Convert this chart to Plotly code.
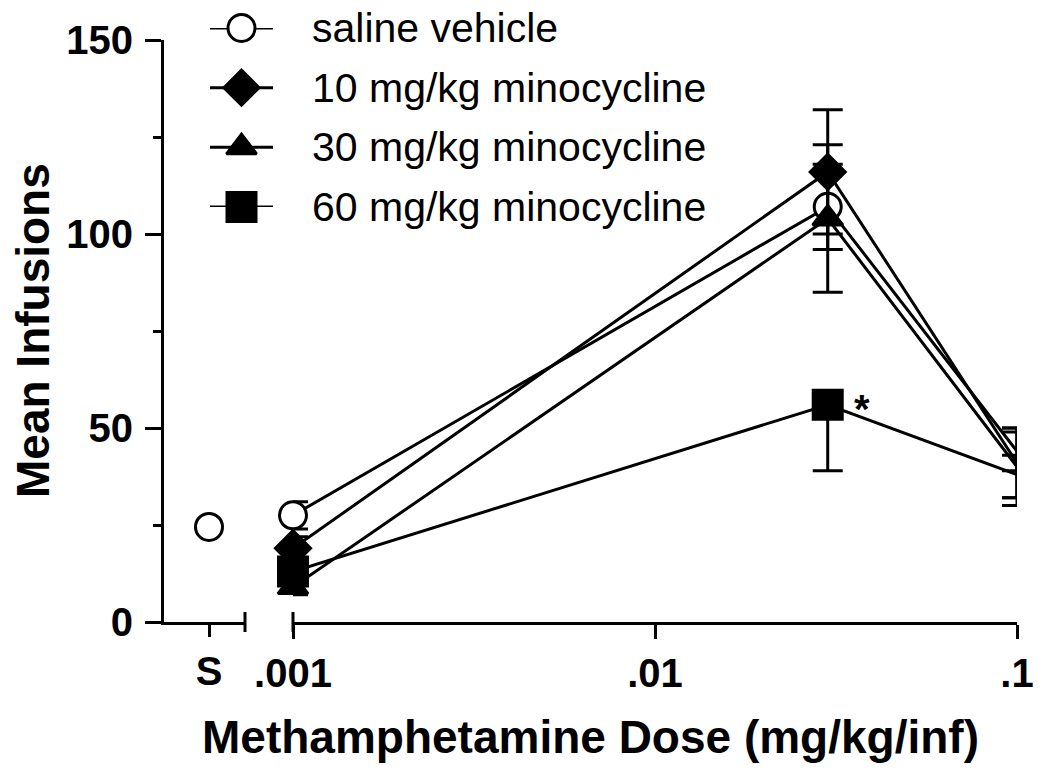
import numpy as np
import plotly.graph_objects as go

# data
doses = [0.001, 0.03, 0.1]
tick_vals = [0.001, 0.01, 0.1]
tick_text = [".001", ".01", ".1"]

saline_s = 24.5

names = ["saline vehicle", "10 mg/kg minocycline", "30 mg/kg minocycline", "60 mg/kg minocycline"]
saline = [27.5, 107, 44]
saline_err = [3.5, 11, 5]
mino10 = [19, 116, 41]
mino10_err = [3, 16, 9]
mino30 = [9, 104, 40]
mino30_err = [2, 19, 10]
mino60 = [13, 56, 38]
mino60_err_up = [2, 0, 5]
mino60_err_down = [2, 17, 6]

symbols = ["circle", "diamond", "triangle-up", "square"]
sizes = [27, 27, 26, 29]
fills = ["white", "black", "black", "black"]

FONT = "Liberation Sans, Arial, sans-serif"
OFF = 8  # page body margin
W, H = 1050 - OFF, 775 - OFF
ML, MR, MT, MB = 156, 33, 2, 153
PW = W - ML - MR
PH = H - MT - MB


# screen pixel -> paper coords
def px_x(p):
    return (p - OFF - ML) / PW


def px_y(p):
    return (H - MB - (p - OFF)) / PH


fig = go.Figure()

series = [
    (saline, saline_err, saline_err),
    (mino10, mino10_err, mino10_err),
    (mino30, mino30_err, mino30_err),
    (mino60, mino60_err_up, mino60_err_down),
]

for i, (vals, up, down) in enumerate(series):
    fig.add_trace(go.Scatter(
        x=doses, y=vals, mode="lines+markers", name=names[i],
        xaxis="x", yaxis="y", cliponaxis=False, showlegend=False,
        line=dict(color="black", width=3),
        marker=dict(symbol=symbols[i], size=sizes[i], color=fills[i], opacity=1,
                    line=dict(color="black", width=3)),
        error_y=dict(type="data", symmetric=False, array=up, arrayminus=down,
                     color="black", thickness=3, width=15),
    ))

# saline-only point on the separate "S" segment
fig.add_trace(go.Scatter(
    x=["S"], y=[saline_s], mode="markers", xaxis="x2", yaxis="y",
    cliponaxis=False, showlegend=False,
    marker=dict(symbol="circle", size=27, color="white", opacity=1,
                line=dict(color="black", width=3)),
))

# hand-made legend (plotly caps legend marker size)
for i, name in enumerate(names):
    fig.add_trace(go.Scatter(
        x=[0, 1], y=[i, i], mode="lines", xaxis="x3", yaxis="y3",
        cliponaxis=False, showlegend=False, hoverinfo="skip",
        line=dict(color="black", width=3),
    ))
    fig.add_trace(go.Scatter(
        x=[0.5], y=[i], mode="markers", xaxis="x3", yaxis="y3",
        cliponaxis=False, showlegend=False, hoverinfo="skip",
        marker=dict(symbol=symbols[i], size=sizes[i], color=fills[i], opacity=1,
                    line=dict(color="black", width=3)),
    ))
    fig.add_annotation(x=px_x(310), y=i, xref="paper", yref="y3", text=name,
                       showarrow=False, xanchor="left", yanchor="middle",
                       font=dict(family=FONT, size=41, color="black"))

fig.add_annotation(x=np.log10(doses[1]), y=mino60[1], xref="x", yref="y", text="*",
                   showarrow=False, xshift=34, yshift=-4,
                   font=dict(family=FONT, size=40, color="black", weight="bold"))

fig.add_annotation(x=px_x(590), y=px_y(737), xref="paper", yref="paper",
                   text="Methamphetamine Dose (mg/kg/inf)", showarrow=False,
                   xanchor="center", yanchor="middle",
                   font=dict(family=FONT, size=46, color="black", weight="bold"))
fig.add_annotation(x=px_x(33), y=px_y(331), xref="paper", yref="paper",
                   text="Mean Infusions", textangle=-90, showarrow=False,
                   xanchor="center", yanchor="middle",
                   font=dict(family=FONT, size=46, color="black", weight="bold"))

# axis break caps
for ref, xv in [("x2 domain", 1), ("x domain", 0)]:
    fig.add_shape(type="line", xref=ref, yref="paper", x0=xv, x1=xv,
                  y0=-10 / PH, y1=10 / PH, line=dict(color="black", width=3))

tickfont = dict(family=FONT, size=40, color="black", weight="bold")

fig.update_layout(
    width=W, height=H,
    margin=dict(l=ML, r=MR, t=MT, b=MB),
    paper_bgcolor="white", plot_bgcolor="white",
    xaxis=dict(type="log", domain=[px_x(293), 1], range=[-3, -1], anchor="y",
               tickvals=tick_vals, ticktext=tick_text, ticks="outside", ticklen=14,
               tickwidth=3, tickcolor="black", showline=True, linecolor="black",
               linewidth=3, showgrid=False, zeroline=False, tickfont=tickfont,
               automargin=False),
    xaxis2=dict(type="category", domain=[0, px_x(245)], range=[-1.25, 1.0], anchor="y",
                ticks="outside", ticklen=12, tickwidth=3, tickcolor="black",
                showline=True, linecolor="black", linewidth=3, showgrid=False,
                zeroline=False, tickfont=tickfont, automargin=False),
    yaxis=dict(domain=[0, px_y(40)], range=[0, 150], anchor="x2",
               tickvals=[0, 50, 100, 150], ticks="outside", ticklen=16, tickwidth=3,
               tickcolor="black", showline=True, linecolor="black", linewidth=3,
               showgrid=False, zeroline=False, tickfont=tickfont, ticklabelstandoff=4,
               automargin=False,
               minor=dict(tickvals=[25, 75, 125], ticks="outside", ticklen=8,
                          tickwidth=3, tickcolor="black", showgrid=False)),
    xaxis3=dict(domain=[px_x(210), px_x(273)], range=[0, 1], anchor="y3",
                visible=False, automargin=False),
    yaxis3=dict(domain=[px_y(207), px_y(28)], range=[3, 0], anchor="x3",
                visible=False, automargin=False),
    showlegend=False,
)

fig.write_html("out.html")
